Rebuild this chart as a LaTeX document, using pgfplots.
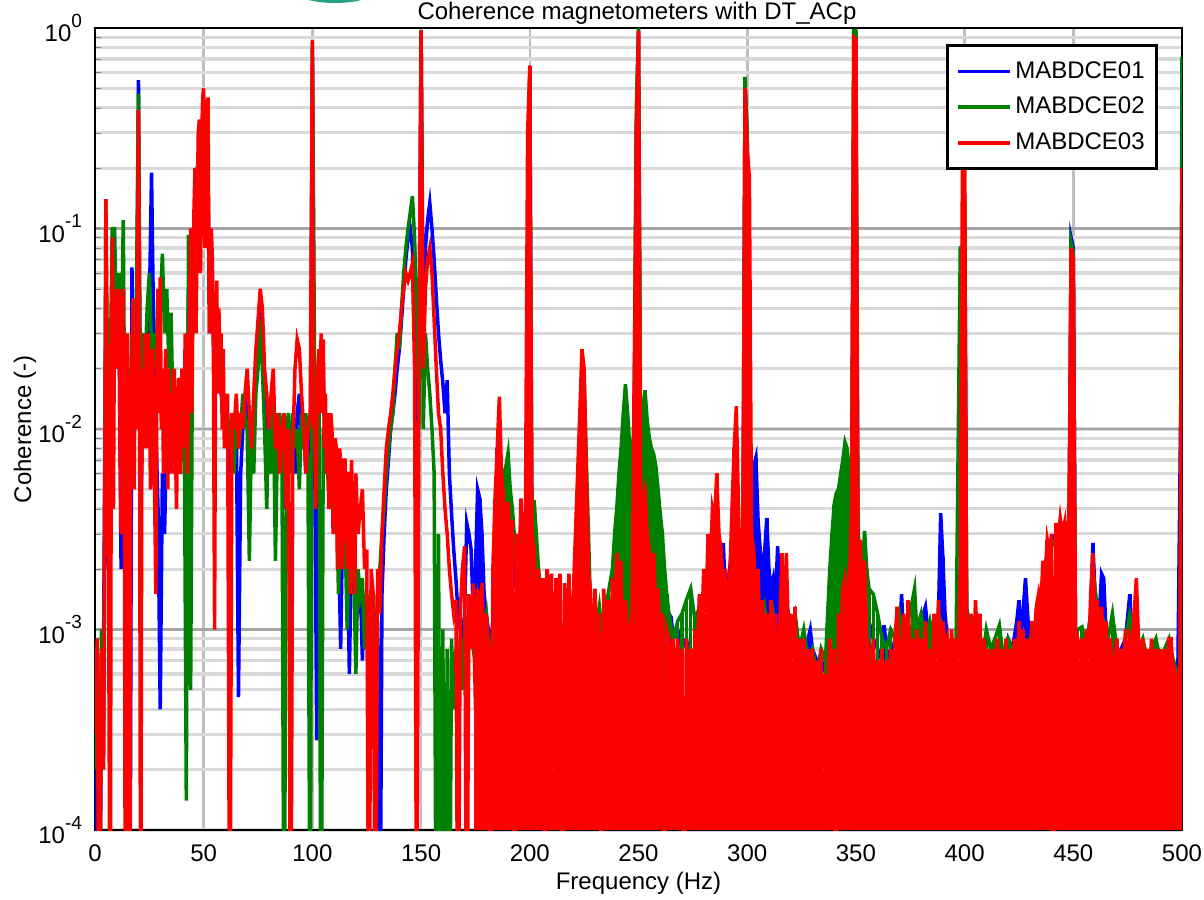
\documentclass[border=0pt]{standalone}
\usepackage{pgfplots}
\usepackage{pgfplotstable}
\pgfplotsset{compat=1.18}
\usepackage{fontspec}
\setmainfont{Liberation Sans}
\definecolor{cblue}{RGB}{0,0,255}
\definecolor{cgreen}{RGB}{0,128,0}
\definecolor{cred}{RGB}{255,0,0}
\definecolor{logoteal}{RGB}{40,160,130}
\newcommand{\ex}[1]{10\raisebox{0.6em}{\fontsize{9.5}{10}\selectfont #1}}

\pgfplotstableread[row sep=\\]{x y\\
0 3e-4\\1 9e-4\\2 1e-5\\3 8e-4\\4 2e-4\\5 0.14\\6 0.01\\7 1e-5\\7.5 0.02\\8 0.09\\8.5 0.004\\9 0.05\\9.5 0.03\\10 0.02\\10.5 0.045\\11 0.05\\11.5 0.008\\12 0.003\\12.5 0.04\\13 0.05\\13.5 0.006\\14 1e-5\\14.5 0.02\\15 0.03\\15.5 0.004\\16 1e-5\\16.5 0.012\\17 0.02\\17.5 0.045\\18 0.005\\18.5 0.03\\19 0.01\\19.5 0.05\\
20 0.39\\20.5 0.02\\21 1e-5\\21.5 0.006\\22 0.02\\22.5 0.008\\23 0.03\\23.5 0.012\\24 0.008\\24.5 0.03\\25 0.02\\25.5 0.005\\26 0.012\\26.5 0.025\\27 0.01\\27.5 0.004\\28 0.0015\\28.5 0.02\\29 0.05\\29.5 0.012\\30 0.057\\30.5 0.01\\31 0.02\\31.5 0.006\\32 0.012\\32.5 0.025\\33 0.01\\33.5 0.005\\34 0.02\\34.5 0.008\\35 0.015\\35.5 0.006\\36 0.012\\36.5 0.02\\37 0.008\\37.5 0.004\\38 0.01\\38.5 0.018\\39 0.015\\39.5 0.006\\
40 0.02\\40.5 0.008\\41 0.012\\41.5 0.03\\42 0.025\\42.5 0.006\\43 0.015\\43.5 0.04\\44 0.1\\44.5 0.012\\45 0.04\\45.5 0.12\\46 0.2\\46.5 0.03\\47 0.12\\47.5 0.3\\48 0.35\\48.5 0.06\\49 0.25\\49.5 0.45\\50 0.5\\50.5 0.08\\51 0.2\\51.5 0.4\\52 0.45\\52.5 0.03\\53 0.05\\53.5 0.1\\54 0.07\\54.5 0.02\\55 0.001\\55.5 0.03\\56 0.055\\56.5 0.015\\57 0.04\\57.5 0.02\\58 0.03\\58.5 0.01\\59 0.025\\59.5 0.008\\
60 0.012\\61 0.015\\62 1e-5\\63 0.012\\64 0.01\\65 0.015\\66 0.008\\67 0.012\\68 0.01\\69 0.015\\70 0.02\\71 0.012\\72 0.008\\73 0.015\\74 0.025\\75 0.035\\76 0.05\\77 0.04\\78 0.02\\79 0.015\\
80 0.01\\81 0.015\\82 0.02\\83 0.008\\84 0.012\\85 0.006\\86 0.01\\87 0.012\\88 0.004\\89 0.01\\90 1e-5\\91 0.008\\92 0.02\\93 0.028\\94 0.025\\95 0.015\\96 0.01\\97 0.006\\98 0.01\\99 0.012\\
100 0.87\\100.5 0.01\\101 0.012\\101.5 0.004\\102 0.008\\102.5 0.02\\103 0.025\\103.5 0.012\\104 0.03\\104.5 0.015\\105 0.028\\105.5 0.008\\106 0.015\\106.5 0.006\\107 0.012\\107.5 0.004\\108 0.008\\108.5 0.012\\109 0.01\\109.5 0.003\\110 0.006\\110.5 0.009\\111 0.008\\111.5 0.002\\112 0.005\\112.5 0.008\\113 0.007\\113.5 0.002\\114 0.004\\114.5 0.007\\115 0.007\\115.5 0.003\\116 0.002\\116.5 0.006\\117 0.006\\117.5 0.0015\\118 0.007\\118.5 0.004\\119 0.005\\119.5 0.0015\\
120 0.006\\121 0.003\\122 0.004\\123 0.005\\124 0.002\\125 0.0025\\126 1e-5\\127 0.002\\128 0.0015\\129 1e-5\\130 0.002\\131 0.0012\\132 0.003\\133 0.005\\134 0.008\\135 0.01\\136 0.012\\137 0.015\\138 0.02\\139 0.025\\
140 0.03\\141 0.04\\142 0.05\\143 0.06\\144 0.055\\145 0.06\\146 0.067\\147 0.02\\148 1e-5\\149 0.02\\150 0.97\\151 0.02\\152 0.05\\153 0.07\\154 0.08\\155 0.06\\156 0.035\\157 0.02\\158 0.012\\159 0.01\\
160 0.006\\161 0.004\\162 0.003\\163 0.002\\164 0.0015\\165 0.0012\\166 0.0014\\167 1e-5\\168 0.0012\\169 0.002\\170 0.0026\\171 1e-5\\172 0.0015\\173 0.0008\\174 0.0017\\175 0.0004\\176 0.0016\\177 0.0009\\178 0.0017\\179 0.0006\\
180 0.0012\\181 0.0008\\182 1e-5\\183 0.002\\184 0.0045\\185 0.008\\186 0.0145\\187 0.006\\188 0.0045\\189 0.003\\190 0.0043\\191 0.0025\\192 0.0035\\193 1e-5\\194 0.003\\195 0.002\\196 0.0045\\197 0.002\\198 0.0035\\199 0.3\\
200 0.65\\201 0.003\\202 0.0025\\203 0.0012\\204 0.002\\205 0.0008\\206 0.0018\\207 1e-5\\208 0.002\\209 0.0012\\210 0.0019\\211 0.0002\\212 0.0018\\213 0.001\\214 0.0019\\215 1e-5\\216 0.0017\\217 0.0008\\218 0.0019\\219 0.0005\\
220 0.0015\\221 0.003\\222 0.006\\223 0.012\\224 0.025\\225 0.02\\226 0.006\\227 0.002\\228 0.0015\\229 0.0004\\230 0.0016\\231 0.0008\\232 0.0012\\233 1e-5\\234 0.0016\\235 0.0009\\236 0.0014\\237 0.0006\\238 0.0018\\239 0.0012\\
240 0.0024\\241 0.001\\242 0.0022\\243 0.0006\\244 0.0014\\245 0.001\\246 0.0008\\247 0.0012\\248 0.015\\249 0.3\\250 0.97\\251 0.004\\252 0.0045\\253 0.005\\254 0.003\\255 0.0025\\256 0.002\\257 0.0024\\258 0.0012\\259 0.0016\\
260 0.0008\\261 0.0012\\262 1e-5\\263 0.001\\264 0.0009\\265 0.0006\\266 0.0009\\267 0.0003\\268 0.0009\\269 0.0005\\270 0.0008\\271 1e-5\\272 0.0009\\273 0.0006\\274 0.0008\\275 0.0004\\276 0.001\\277 0.0007\\278 0.0015\\279 0.0009\\
280 0.002\\281 0.0012\\282 0.003\\283 0.002\\284 0.004\\285 0.0035\\286 0.006\\287 0.003\\288 0.0025\\289 0.0016\\290 0.002\\291 0.001\\292 0.0018\\293 0.004\\294 0.008\\295 0.013\\296 0.004\\297 0.0015\\298 0.003\\299 0.5\\
300 0.25\\301 0.18\\302 0.003\\303 0.0025\\304 0.0015\\305 0.002\\306 0.0008\\307 0.0014\\308 0.0009\\309 0.0012\\310 0.0006\\311 0.0014\\312 0.0008\\313 0.0012\\314 0.0005\\315 0.001\\316 0.0024\\317 0.0008\\318 0.0024\\319 0.0009\\
320 0.0012\\321 0.0007\\322 0.0013\\323 0.0004\\324 0.0009\\325 0.0006\\326 0.0009\\327 0.0003\\328 0.0008\\329 0.0005\\330 0.0008\\331 0.0004\\332 0.0007\\333 0.0003\\334 0.0008\\335 0.0002\\336 0.0006\\337 0.0005\\338 0.0009\\339 0.0004\\
340 0.0008\\341 1e-5\\342 0.0012\\343 0.0008\\344 0.0016\\345 0.0018\\346 0.0009\\347 0.0017\\348 0.004\\349 0.9\\350 0.88\\351 0.002\\352 0.0028\\353 0.0012\\354 0.0022\\355 0.0009\\356 0.0008\\357 0.0006\\358 0.0009\\359 0.0004\\
360 0.0007\\361 0.0005\\362 0.0008\\363 0.0003\\364 0.0007\\365 0.0005\\366 0.0008\\367 0.0003\\368 0.0009\\369 0.0013\\370 0.0005\\371 0.0008\\372 0.0012\\373 0.0004\\374 0.0014\\375 0.0007\\376 0.0009\\377 0.0005\\378 0.001\\379 0.0004\\
380 0.0009\\381 0.0006\\382 0.0011\\383 0.0004\\384 0.0008\\385 0.0006\\386 0.0012\\387 0.0007\\388 0.0014\\389 0.0006\\390 0.0011\\391 0.0008\\392 0.0009\\393 0.0005\\394 0.001\\395 0.0006\\396 0.0009\\397 0.0007\\398 0.002\\399 0.2\\
400 0.21\\401 0.001\\402 0.0008\\403 0.0012\\404 0.0006\\405 0.0014\\406 0.0008\\407 0.0012\\408 0.0005\\409 0.0009\\410 0.0006\\411 0.0008\\412 0.0004\\413 0.0008\\414 0.0005\\415 0.0009\\416 0.0006\\417 0.0008\\418 0.0004\\419 0.0009\\
420 0.0005\\421 0.0008\\422 0.0006\\423 0.0009\\424 0.0005\\425 0.0011\\426 0.0007\\427 0.001\\428 0.0005\\429 0.0009\\430 0.0006\\431 0.0011\\432 0.0009\\433 0.0013\\434 0.0015\\435 0.0012\\436 0.0022\\437 0.0018\\438 0.0028\\439 0.0024\\
440 0.003\\441 1e-5\\442 0.0034\\443 0.0028\\444 0.0036\\445 0.003\\446 0.0034\\447 0.002\\448 0.004\\449 0.08\\450 0.07\\451 0.001\\452 0.0009\\453 0.0007\\454 0.0009\\455 0.0005\\456 0.001\\457 0.0007\\458 0.0015\\459 0.0024\\
460 0.0011\\461 0.0014\\462 0.0008\\463 0.0013\\464 0.0007\\465 0.0011\\466 0.0006\\467 0.0009\\468 0.0007\\469 0.0006\\470 0.0009\\471 0.0004\\472 0.0008\\473 0.0006\\474 0.001\\475 0.0005\\476 0.0009\\477 0.0008\\478 0.0012\\479 0.0018\\
480 0.0009\\481 0.0007\\482 0.0009\\483 0.0005\\484 0.0008\\485 0.0006\\486 0.0009\\487 0.0005\\488 0.0008\\489 0.0006\\490 0.0008\\491 0.0004\\492 0.0008\\493 0.0006\\494 0.0009\\495 0.0009\\496 0.0005\\497 0.0006\\498 0.0005\\499 0.0004\\
500 0.2\\
}\tblR

\pgfplotstableread[row sep=\\]{x y\\
0 2e-4\\1 5e-4\\2 1e-4\\3 1e-3\\4 3e-4\\5 0.14\\6 0.003\\7 0.02\\8 0.1\\9 0.1\\10 0.03\\11 0.06\\12 0.02\\13 0.11\\14 0.003\\15 0.02\\16 0.006\\17 0.03\\18 0.01\\19 0.04\\
20 0.47\\21 0.01\\22 0.03\\23 0.02\\24 0.04\\25 0.06\\26 0.025\\27 0.03\\28 0.02\\29 0.05\\30 0.04\\31 0.075\\32 0.03\\33 0.05\\34 0.02\\35 0.038\\36 0.01\\37 0.015\\38 0.006\\39 0.012\\
40 0.008\\41 0.015\\42 0.00014\\43 0.093\\44 0.0005\\45 0.06\\46 0.09\\47 0.2\\48 0.2\\49 0.15\\50 0.3\\51 0.25\\52 0.1\\53 0.04\\54 0.05\\55 0.03\\56 0.04\\57 0.02\\58 0.025\\59 0.015\\
60 0.01\\61 0.012\\62 0.008\\63 0.01\\64 0.006\\65 0.012\\66 0.008\\67 0.01\\68 0.015\\69 0.012\\70 0.01\\71 0.0022\\72 0.01\\73 0.006\\74 0.015\\75 0.02\\76 0.035\\77 0.02\\78 0.01\\79 0.004\\
80 0.012\\81 0.006\\82 0.015\\83 0.0022\\84 0.01\\85 0.012\\86 0.008\\87 1e-5\\88 0.01\\89 0.012\\90 0.006\\91 0.012\\92 0.008\\93 0.01\\94 0.005\\95 0.012\\96 0.008\\97 0.012\\98 0.006\\99 1e-5\\
100 0.85\\101 0.02\\102 0.012\\103 0.015\\104 1e-5\\105 0.01\\106 0.008\\107 0.006\\108 0.004\\109 0.006\\110 0.003\\111 0.005\\112 0.0015\\113 0.004\\114 0.002\\115 0.003\\116 0.001\\117 0.003\\118 0.0025\\119 0.002\\
120 0.0006\\121 0.002\\122 0.0015\\123 0.0018\\124 0.0008\\125 0.0015\\126 0.0012\\127 0.0004\\128 0.001\\129 0.0008\\130 0.0015\\131 0.002\\132 0.003\\133 0.004\\134 0.006\\135 0.008\\136 0.01\\137 0.012\\138 0.02\\139 0.03\\
140 0.025\\141 0.04\\142 0.06\\143 0.08\\144 0.1\\145 0.12\\146 0.145\\147 0.09\\148 0.04\\149 0.01\\150 0.98\\151 0.01\\152 0.03\\153 0.02\\154 0.015\\155 0.01\\156 0.006\\157 1e-5\\158 0.003\\159 1e-5\\
160 0.001\\161 1e-5\\162 0.0008\\163 1e-5\\164 0.0009\\165 0.0004\\166 0.0008\\167 0.0003\\168 0.0009\\169 0.0005\\170 0.001\\
172 0.0012\\174 0.0008\\176 0.0014\\178 0.0009\\180 0.0012\\182 0.0006\\184 0.002\\185 0.003\\186 0.004\\187 0.005\\188 0.006\\189 0.0065\\190 0.0076\\191 0.005\\192 0.004\\194 0.002\\196 0.0025\\198 0.0018\\
200 0.6\\201 0.003\\202 0.0044\\203 0.003\\204 0.002\\206 0.0012\\208 0.0015\\210 0.0009\\212 0.0012\\214 0.0008\\216 0.0011\\218 0.0014\\220 0.0009\\222 0.002\\223 0.004\\224 0.007\\225 0.018\\226 0.007\\227 0.003\\228 0.0012\\
230 0.0009\\232 0.0013\\234 0.0008\\236 0.0015\\238 0.002\\239 0.003\\240 0.004\\241 0.006\\242 0.008\\243 0.012\\244 0.0167\\245 0.012\\246 0.008\\247 0.006\\248 0.012\\249 0.4\\250 1.0\\251 0.008\\252 0.012\\253 0.0156\\
254 0.011\\255 0.009\\256 0.008\\257 0.0075\\258 0.0065\\259 0.005\\260 0.0038\\261 0.003\\262 0.002\\263 0.0015\\264 0.0012\\266 0.0009\\268 0.0011\\270 0.0012\\272 0.0014\\274 0.0016\\276 0.0011\\278 0.0013\\
280 0.0015\\282 0.002\\284 0.0025\\286 0.003\\288 0.002\\290 0.0015\\292 0.0012\\294 0.003\\296 0.0025\\298 0.002\\299 0.57\\300 0.3\\301 0.002\\302 0.0015\\304 0.0012\\306 0.001\\308 0.0013\\310 0.0009\\
312 0.0012\\314 0.0008\\316 0.0012\\318 0.0011\\320 0.001\\322 0.0012\\324 0.0008\\326 0.001\\328 0.0007\\330 0.0008\\332 0.0006\\334 0.0008\\336 0.0007\\337 0.0012\\338 0.002\\339 0.003\\
340 0.0042\\341 0.0048\\342 0.005\\343 0.006\\344 0.007\\345 0.0086\\346 0.008\\347 0.006\\348 0.004\\349 0.97\\350 0.97\\351 0.003\\352 0.0025\\353 0.002\\354 0.0031\\355 0.002\\356 0.0016\\358 0.0015\\
360 0.0012\\362 0.0009\\364 0.0008\\366 0.001\\368 0.0009\\370 0.0012\\372 0.0008\\374 0.0011\\376 0.0014\\377 0.0016\\378 0.001\\380 0.0012\\382 0.0009\\384 0.0011\\386 0.0008\\388 0.0012\\390 0.001\\
392 0.0008\\394 0.0009\\396 0.0007\\398 0.08\\399 0.08\\400 0.2\\401 0.0009\\402 0.0011\\404 0.0008\\406 0.0009\\408 0.0007\\410 0.001\\412 0.0008\\414 0.0009\\416 0.00105\\418 0.0007\\
420 0.0009\\422 0.0008\\424 0.0007\\426 0.0009\\428 0.0008\\430 0.0009\\432 0.001\\434 0.0012\\436 0.0018\\438 0.0022\\440 0.0026\\442 0.0028\\444 0.003\\446 0.0032\\448 0.002\\449 0.085\\450 0.075\\451 0.0009\\
452 0.001\\454 0.00103\\456 0.0008\\458 0.0012\\460 0.0016\\462 0.001\\464 0.0011\\466 0.0009\\468 0.0012\\470 0.0008\\472 0.0006\\474 0.0009\\476 0.0012\\478 0.001\\
480 0.0008\\482 0.0009\\484 0.0007\\486 0.0008\\488 0.0009\\490 0.0007\\492 0.0008\\494 0.0009\\496 0.0007\\498 0.0006\\499 0.0005\\500 0.72\\
}\tblG

\pgfplotstableread[row sep=\\]{x y\\
0 2e-4\\1 1e-4\\2 1e-5\\3 5e-4\\4 1e-3\\5 0.05\\6 0.002\\7 0.01\\8 0.1\\9 0.06\\10 0.02\\11 0.04\\12 0.002\\13 0.03\\14 0.001\\15 0.012\\16 1e-5\\17 0.064\\18 0.01\\19 0.02\\
20 0.55\\21 0.003\\22 0.015\\23 0.03\\24 0.02\\25 0.04\\26 0.19\\27 0.03\\28 0.01\\29 0.004\\30 0.0004\\31 0.006\\32 0.003\\33 0.01\\34 0.006\\35 0.02\\36 0.012\\37 0.008\\38 0.01\\39 0.006\\
40 0.015\\41 0.01\\42 0.005\\43 0.05\\44 0.02\\45 0.05\\46 0.08\\47 0.12\\48 0.2\\49 0.3\\50 0.25\\51 0.15\\52 0.17\\53 0.03\\54 0.04\\55 0.02\\56 0.03\\57 0.02\\58 0.015\\59 0.012\\
60 0.01\\61 0.008\\62 0.006\\63 0.01\\64 0.008\\65 0.012\\66 0.00046\\67 0.006\\68 0.01\\69 0.012\\70 0.015\\71 0.01\\72 0.008\\73 0.012\\74 0.02\\75 0.025\\76 0.035\\77 0.03\\78 0.015\\79 0.01\\
80 0.006\\81 0.012\\82 0.008\\83 0.01\\84 0.006\\85 0.01\\86 0.008\\87 0.004\\88 0.006\\89 0.01\\90 0.008\\91 0.01\\92 0.006\\93 0.012\\94 0.015\\95 0.008\\96 0.01\\97 0.006\\98 0.008\\99 0.005\\
100 0.8\\101 0.01\\102 0.00028\\103 0.012\\104 0.015\\105 0.02\\106 0.006\\107 0.008\\108 0.005\\109 0.006\\110 0.004\\111 0.005\\112 0.003\\113 0.0008\\114 0.004\\115 0.002\\116 0.003\\117 0.0006\\118 0.0025\\119 0.0015\\
120 0.002\\121 0.0012\\122 0.0018\\123 0.0007\\124 0.0015\\125 0.001\\126 0.0012\\127 0.0006\\128 0.0012\\129 0.0008\\130 0.0011\\131 1e-5\\132 0.0015\\133 0.003\\134 0.005\\135 0.007\\136 0.01\\137 0.012\\138 0.015\\139 0.02\\
140 0.025\\141 0.035\\142 0.05\\143 0.07\\144 0.09\\145 0.1\\146 0.08\\147 0.03\\148 0.01\\149 0.02\\150 0.95\\151 0.03\\152 0.08\\153 0.11\\154 0.134\\155 0.1\\156 0.07\\157 0.045\\158 0.03\\159 0.022\\
160 0.017\\161 0.012\\162 0.0175\\163 0.006\\164 0.0038\\165 0.0025\\166 0.0018\\167 0.0012\\168 0.001\\169 0.0009\\170 0.0012\\171 0.0034\\172 0.003\\173 0.0025\\174 0.0012\\175 0.002\\176 0.005\\177 0.0045\\178 0.003\\179 0.0015\\
180 0.0012\\182 0.0008\\184 0.0015\\186 0.002\\188 0.0053\\189 0.003\\190 0.002\\192 0.0025\\194 0.0015\\196 0.002\\198 0.0012\\200 0.6\\201 0.002\\202 0.0015\\204 0.0012\\206 0.001\\208 0.0013\\
210 0.0009\\212 0.0012\\214 0.0008\\216 0.001\\218 0.0013\\220 0.001\\222 0.0015\\224 0.003\\225 0.015\\226 0.003\\228 0.0012\\230 0.001\\232 0.0008\\234 0.0011\\236 0.0009\\238 0.0012\\
240 0.002\\242 0.003\\243 0.005\\244 0.01\\245 0.006\\246 0.003\\248 0.008\\249 0.3\\250 0.95\\251 0.004\\252 0.003\\254 0.0025\\256 0.002\\258 0.0015\\260 0.001\\262 0.0008\\264 0.0012\\265 0.00115\\266 0.0009\\268 0.001\\
270 0.0008\\272 0.0009\\274 0.0007\\276 0.0008\\278 0.0006\\280 0.001\\282 0.0012\\284 0.0015\\286 0.002\\288 0.0022\\289 0.0027\\290 0.0015\\292 0.002\\294 0.004\\295 0.0079\\296 0.003\\298 0.002\\299 0.5\\
300 0.3\\301 0.002\\302 0.004\\303 0.0065\\304 0.0072\\305 0.0035\\306 0.0025\\307 0.002\\308 0.0024\\309 0.0036\\310 0.002\\311 0.0016\\312 0.0018\\313 0.0014\\314 0.0026\\315 0.0015\\316 0.0012\\318 0.0014\\
320 0.001\\322 0.0009\\324 0.0008\\326 0.0007\\328 0.0009\\329 0.001\\330 0.0008\\332 0.0007\\334 0.0006\\336 0.0007\\338 0.0009\\340 0.0015\\342 0.002\\344 0.003\\345 0.004\\346 0.002\\348 0.0015\\349 0.5\\
350 0.6\\351 0.0015\\352 0.002\\354 0.0015\\356 0.0011\\358 0.0009\\360 0.0008\\362 0.0007\\363 0.00105\\364 0.0008\\366 0.0007\\368 0.0009\\370 0.0008\\371 0.0015\\372 0.0009\\374 0.0008\\376 0.0007\\378 0.0009\\
380 0.0011\\382 0.0013\\384 0.0008\\386 0.001\\388 0.0012\\389 0.0038\\390 0.0023\\391 0.0012\\392 0.0009\\394 0.0008\\396 0.0007\\398 0.002\\399 0.05\\400 0.15\\401 0.0008\\402 0.0009\\404 0.0007\\406 0.0008\\408 0.00063\\
410 0.0008\\412 0.0007\\414 0.0006\\416 0.0008\\418 0.0007\\420 0.0009\\422 0.0008\\424 0.0011\\425 0.0014\\426 0.0009\\428 0.0018\\429 0.0012\\430 0.0008\\432 0.0009\\434 0.0012\\436 0.0018\\438 0.0024\\
440 0.0028\\442 0.003\\444 0.0033\\446 0.003\\448 0.002\\449 0.09\\450 0.08\\451 0.0009\\452 0.0008\\454 0.0009\\456 0.0008\\458 0.0012\\459 0.0027\\460 0.0015\\462 0.0012\\463 0.0019\\464 0.0018\\465 0.001\\
466 0.0008\\468 0.0009\\470 0.0007\\472 0.0008\\474 0.0009\\476 0.0015\\477 0.0009\\478 0.0008\\480 0.0007\\482 0.0008\\484 0.0006\\486 0.0007\\488 0.0008\\490 0.0006\\492 0.0007\\494 0.0008\\496 0.0006\\498 0.0005\\500 0.05\\
}\tblB

\pgfplotsset{
  legend image code/.code={\draw[#1] (0pt,0pt) -- (26pt,0pt);},
}

\begin{document}
\begin{tikzpicture}
\useasboundingbox (-47.5pt,-34.5pt) rectangle (554.5pt,415pt);
\fill[logoteal] (120pt,419.5pt) ellipse (20pt and 6pt);
\node[anchor=base, font=\fontsize{12}{14}\selectfont, inner sep=0pt] at (271pt,405pt) {Coherence magnetometers with DT\_ACp};
\begin{axis}[
  at={(0pt,0pt)}, anchor=south west,
  scale only axis,
  width=543.5pt, height=401pt,
  xmin=0, xmax=500,
  ymode=log, ymin=1e-4, ymax=1,
  log origin y=infty,
  xtick={0,50,...,500},
  ytick={1e-4,1e-3,1e-2,1e-1,1},
  yticklabels={{\ex{-4}},{\ex{-3}},{\ex{-2}},{\ex{-1}},{\ex{0}}},
  /pgf/number format/assume math mode=true,
  tick label style={font=\fontsize{12}{14}\selectfont},
  xticklabel style={yshift=-4pt},
  yticklabel style={xshift=-3pt},
  xtick pos=bottom, ytick pos=left,
  major tick length=0pt, minor tick length=3pt,
  minor tick style={gray},
  xmajorgrids, ymajorgrids, yminorgrids,
  major x grid style={color=black!25, line width=1.3pt},
  major y grid style={color=black!35, line width=1.3pt},
  minor y grid style={color=black!15, line width=1.6pt},
  axis line style={line width=1.4pt, black},
  every axis x label/.style={at={(axis description cs:0.5,-0.066)}, anchor=center},
  every axis y label/.style={at={(axis description cs:-0.0644,0.5)}, anchor=center, rotate=90},
  label style={font=\fontsize{12}{14}\selectfont},
  xlabel={Frequency (Hz)},
  ylabel={Coherence (-)},
  legend style={at={(0.978,0.98)}, anchor=north east, draw=black, line width=1.4pt,
    font=\fontsize{12}{14}\selectfont, row sep=4pt, inner xsep=4pt, inner ysep=6pt,
    cells={anchor=west}},
  clip=true,
]
\addplot[cblue, line width=1.75pt, ycomb, forget plot, restrict x to domain=175:500] table[x=x,y=y]{\tblB};
\addplot[cblue, line width=1.75pt] table[x=x,y=y]{\tblB};
\addlegendentry{MABDCE01}
\addplot[cgreen, line width=1.75pt, ycomb, forget plot, restrict x to domain=175:500] table[x=x,y=y]{\tblG};
\addplot[cgreen, line width=1.75pt] table[x=x,y=y]{\tblG};
\addlegendentry{MABDCE02}
\addplot[cred, line width=1.75pt, ycomb, forget plot, restrict x to domain=175:500] table[x=x,y=y]{\tblR};
\addplot[cred, line width=1.75pt] table[x=x,y=y]{\tblR};
\addlegendentry{MABDCE03}
\end{axis}
\end{tikzpicture}
\end{document}
